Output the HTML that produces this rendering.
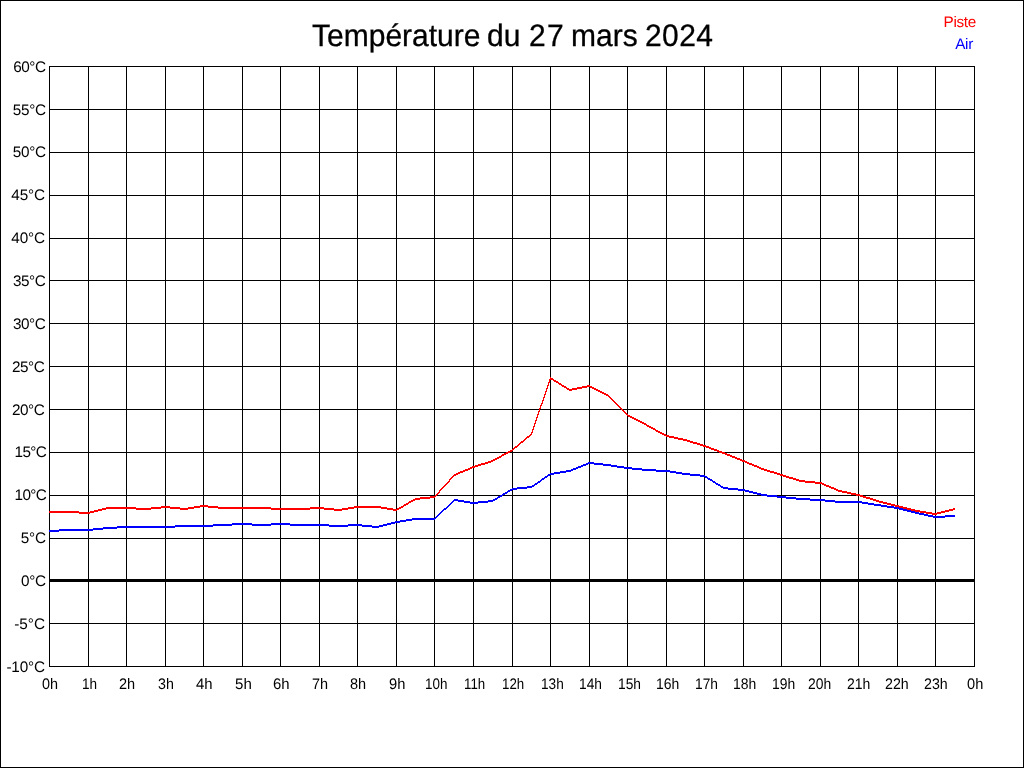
<!DOCTYPE html>
<html lang="fr">
<head>
<meta charset="utf-8">
<title>Température du 27 mars 2024</title>
<style>
html,body{margin:0;padding:0;background:#fff;}
body{width:1024px;height:768px;overflow:hidden;position:relative;font-family:"Liberation Sans",sans-serif;color:#000;}
#frame{position:absolute;left:0;top:0;width:1022px;height:766px;border:1px solid #000;}
.v{position:absolute;width:1px;background:#000;top:66px;height:601px;}
.h{position:absolute;height:1px;background:#000;left:49px;width:926px;}
.z{position:absolute;height:3px;background:#000;left:49px;width:926px;top:579px;}
.yl{position:absolute;left:0;width:46px;text-align:right;font-size:15.3px;letter-spacing:-0.3px;text-rendering:geometricPrecision;line-height:16px;height:16px;white-space:nowrap;}
.xl{position:absolute;transform-origin:0 0;font-size:15.3px;text-rendering:geometricPrecision;line-height:16px;height:16px;top:677px;white-space:nowrap;}
#title{position:absolute;left:0;width:1024px;top:19px;height:34px;font-size:31px;line-height:34px;white-space:nowrap;text-rendering:geometricPrecision;-webkit-text-stroke:0.3px #000;}
#title span{position:absolute;top:0;transform:scaleX(0.968);transform-origin:0 0;}
.lg{position:absolute;font-size:15.3px;letter-spacing:-0.3px;text-rendering:geometricPrecision;line-height:16px;white-space:nowrap;text-align:right;}
svg{position:absolute;left:0;top:0;}
</style>
</head>
<body>
<div id="frame"></div>
<div id="title"><span style="left:312px">Température</span> <span style="left:487px">du</span> <span style="left:529px;letter-spacing:1.4px">27</span> <span style="left:571px">mars</span> <span style="left:645px;letter-spacing:0.4px">2024</span></div>
<div class="lg" style="color:#f00;left:900px;width:76px;top:15px;">Piste</div>
<div class="lg" style="color:#00f;left:900px;width:73px;top:37px;">Air</div>
<div class="v" style="left:49px"></div><div class="v" style="left:88px"></div><div class="v" style="left:126px"></div><div class="v" style="left:165px"></div><div class="v" style="left:203px"></div><div class="v" style="left:242px"></div><div class="v" style="left:280px"></div><div class="v" style="left:319px"></div><div class="v" style="left:357px"></div><div class="v" style="left:396px"></div><div class="v" style="left:434px"></div><div class="v" style="left:473px"></div><div class="v" style="left:512px"></div><div class="v" style="left:550px"></div><div class="v" style="left:589px"></div><div class="v" style="left:627px"></div><div class="v" style="left:666px"></div><div class="v" style="left:704px"></div><div class="v" style="left:743px"></div><div class="v" style="left:781px"></div><div class="v" style="left:820px"></div><div class="v" style="left:858px"></div><div class="v" style="left:897px"></div><div class="v" style="left:935px"></div><div class="v" style="left:974px"></div>
<div class="h" style="top:66px"></div><div class="h" style="top:109px"></div><div class="h" style="top:152px"></div><div class="h" style="top:195px"></div><div class="h" style="top:238px"></div><div class="h" style="top:280px"></div><div class="h" style="top:323px"></div><div class="h" style="top:366px"></div><div class="h" style="top:409px"></div><div class="h" style="top:452px"></div><div class="h" style="top:495px"></div><div class="h" style="top:538px"></div><div class="h" style="top:580px"></div><div class="h" style="top:623px"></div><div class="h" style="top:666px"></div>
<div class="z"></div>
<div class="yl" style="top:60px;width:45.75px;letter-spacing:-0.400px">60°C</div><div class="yl" style="top:103px;width:45.75px;letter-spacing:-0.300px">55°C</div><div class="yl" style="top:145px;width:45.75px;letter-spacing:-0.300px">50°C</div><div class="yl" style="top:188px;width:44.75px;letter-spacing:-0.200px">45°C</div><div class="yl" style="top:231px;width:44.75px;letter-spacing:-0.200px">40°C</div><div class="yl" style="top:274px;width:45.50px;letter-spacing:-0.400px">35°C</div><div class="yl" style="top:317px;width:45.50px;letter-spacing:-0.400px">30°C</div><div class="yl" style="top:360px;width:44.50px;letter-spacing:-0.400px">25°C</div><div class="yl" style="top:403px;width:44.50px;letter-spacing:-0.400px">20°C</div><div class="yl" style="top:445px;width:46.25px;letter-spacing:-0.600px">15°C</div><div class="yl" style="top:488px;width:46.25px;letter-spacing:-0.600px">10°C</div><div class="yl" style="top:531px;width:45.75px;letter-spacing:-0.200px">5°C</div><div class="yl" style="top:574px;width:45.75px;letter-spacing:-0.300px">0°C</div><div class="yl" style="top:617px;width:45.00px;letter-spacing:0.000px">-5°C</div><div class="yl" style="top:660px;width:44.75px;letter-spacing:-0.200px">-10°C</div>
<div class="xl" style="left:42.00px;transform:scaleX(0.9425)">0h</div><div class="xl" style="left:82.01px;transform:scaleX(0.8857)">1h</div><div class="xl" style="left:119.17px;transform:scaleX(0.9508)">2h</div><div class="xl" style="left:158.28px;transform:scaleX(0.9313)">3h</div><div class="xl" style="left:196.00px;transform:scaleX(0.9740)">4h</div><div class="xl" style="left:234.62px;transform:scaleX(0.9851)">5h</div><div class="xl" style="left:272.89px;transform:scaleX(0.9749)">6h</div><div class="xl" style="left:312.11px;transform:scaleX(0.9453)">7h</div><div class="xl" style="left:349.99px;transform:scaleX(0.9495)">8h</div><div class="xl" style="left:389.01px;transform:scaleX(0.9611)">9h</div><div class="xl" style="left:425.12px;transform:scaleX(0.8792)">10h</div><div class="xl" style="left:464.19px;transform:scaleX(0.8696)">11h</div><div class="xl" style="left:502.03px;transform:scaleX(0.8708)">12h</div><div class="xl" style="left:541.01px;transform:scaleX(0.8917)">13h</div><div class="xl" style="left:578.85px;transform:scaleX(0.8979)">14h</div><div class="xl" style="left:617.90px;transform:scaleX(0.9000)">15h</div><div class="xl" style="left:655.69px;transform:scaleX(0.9125)">16h</div><div class="xl" style="left:694.60px;transform:scaleX(0.9000)">17h</div><div class="xl" style="left:732.59px;transform:scaleX(0.9125)">18h</div><div class="xl" style="left:771.69px;transform:scaleX(0.9083)">19h</div><div class="xl" style="left:808.11px;transform:scaleX(0.9078)">20h</div><div class="xl" style="left:847.10px;transform:scaleX(0.9160)">21h</div><div class="xl" style="left:885.09px;transform:scaleX(0.9284)">22h</div><div class="xl" style="left:924.09px;transform:scaleX(0.9284)">23h</div><div class="xl" style="left:967.20px;transform:scaleX(0.9555)">0h</div>
<svg width="1024" height="768" viewBox="0 0 1024 768">
<path d="M49 530h10v2h-10zM59 529h11v2h-11zM69 529h20v2h-20zM88 529h5v2h-5zM93 528h10v2h-10zM103 527h5v2h-5zM107 527h10v2h-10zM117 526h10v2h-10zM126 526h21v2h-21zM146 526h20v2h-20zM165 526h10v2h-10zM175 525h10v2h-10zM184 525h20v2h-20zM203 525h10v2h-10zM213 524h10v2h-10zM222 524h10v2h-10zM232 523h11v2h-11zM242 523h10v2h-10zM252 524h10v2h-10zM261 524h10v2h-10zM271 523h10v2h-10zM280 523h10v2h-10zM290 524h11v2h-11zM300 524h20v2h-20zM319 524h10v2h-10zM329 525h10v2h-10zM338 525h10v2h-10zM348 524h10v2h-10zM357 524h5v2h-5zM362 525h10v2h-10zM372 526h6v2h-6zM377 526h2v2h-2zM379 525h4v2h-4zM383 524h4v2h-4zM387 523h4v2h-4zM391 522h4v2h-4zM395 521h2v2h-2zM396 521h4v2h-4zM400 520h6v2h-6zM406 519h6v2h-6zM412 518h4v2h-4zM415 518h20v2h-20zM434 518h1v2h-1zM435 517h1v2h-1zM436 516h1v2h-1zM437 515h1v2h-1zM438 514h1v2h-1zM439 513h1v2h-1zM440 512h1v2h-1zM441 511h1v2h-1zM442 510h1v2h-1zM443 509h1v2h-1zM444 508h2v2h-2zM446 507h1v2h-1zM447 506h1v2h-1zM448 505h1v2h-1zM449 504h1v2h-1zM450 503h1v2h-1zM451 502h1v2h-1zM452 501h1v2h-1zM453 500h1v2h-1zM454 499h1v2h-1zM454 499h4v2h-4zM458 500h6v2h-6zM464 501h6v2h-6zM470 502h4v2h-4zM473 502h5v2h-5zM478 501h10v2h-10zM488 500h5v2h-5zM492 500h1v2h-1zM493 499h2v2h-2zM495 498h2v2h-2zM497 497h1v2h-1zM498 496h2v2h-2zM500 495h2v2h-2zM502 494h1v2h-1zM503 493h2v2h-2zM505 492h2v2h-2zM507 491h1v2h-1zM508 490h2v2h-2zM510 489h2v2h-2zM512 488h1v2h-1zM512 488h5v2h-5zM517 487h10v2h-10zM527 486h5v2h-5zM531 486h1v2h-1zM532 485h2v2h-2zM534 484h1v2h-1zM535 483h2v2h-2zM537 482h1v2h-1zM538 481h2v2h-2zM540 480h1v2h-1zM541 479h1v2h-1zM542 478h2v2h-2zM544 477h1v2h-1zM545 476h2v2h-2zM547 475h1v2h-1zM548 474h2v2h-2zM550 473h1v2h-1zM550 473h4v2h-4zM554 472h6v2h-6zM560 471h6v2h-6zM566 470h4v2h-4zM569 470h2v2h-2zM571 469h2v2h-2zM573 468h3v2h-3zM576 467h2v2h-2zM578 466h3v2h-3zM581 465h2v2h-2zM583 464h3v2h-3zM586 463h2v2h-2zM588 462h2v2h-2zM589 462h5v2h-5zM594 463h9v2h-9zM603 464h5v2h-5zM607 464h4v2h-4zM611 465h6v2h-6zM617 466h7v2h-7zM624 467h4v2h-4zM627 467h5v2h-5zM632 468h10v2h-10zM642 469h5v2h-5zM646 469h10v2h-10zM656 470h11v2h-11zM666 470h4v2h-4zM670 471h6v2h-6zM676 472h6v2h-6zM682 473h4v2h-4zM685 473h5v2h-5zM690 474h10v2h-10zM700 475h5v2h-5zM704 475h1v2h-1zM705 476h2v2h-2zM707 477h1v2h-1zM708 478h2v2h-2zM710 479h2v2h-2zM712 480h1v2h-1zM713 481h2v2h-2zM715 482h1v2h-1zM716 483h2v2h-2zM718 484h2v2h-2zM720 485h1v2h-1zM721 486h2v2h-2zM723 487h1v2h-1zM723 487h5v2h-5zM728 488h10v2h-10zM738 489h6v2h-6zM743 489h2v2h-2zM745 490h4v2h-4zM749 491h4v2h-4zM753 492h4v2h-4zM757 493h4v2h-4zM761 494h2v2h-2zM762 494h5v2h-5zM767 495h10v2h-10zM777 496h5v2h-5zM781 496h5v2h-5zM786 497h10v2h-10zM796 498h5v2h-5zM800 498h10v2h-10zM810 499h11v2h-11zM820 499h5v2h-5zM825 500h10v2h-10zM835 501h5v2h-5zM839 501h20v2h-20zM858 501h4v2h-4zM862 502h6v2h-6zM868 503h6v2h-6zM874 504h4v2h-4zM877 504h4v2h-4zM881 505h6v2h-6zM887 506h7v2h-7zM894 507h4v2h-4zM897 507h2v2h-2zM899 508h4v2h-4zM903 509h4v2h-4zM907 510h4v2h-4zM911 511h4v2h-4zM915 512h2v2h-2zM916 512h3v2h-3zM919 513h5v2h-5zM924 514h4v2h-4zM928 515h5v2h-5zM933 516h3v2h-3zM935 516h10v2h-10zM945 515h10v2h-10z" fill="#0000ff" shape-rendering="crispEdges"/>
<path d="M49 511h21v2h-21zM69 511h10v2h-10zM79 512h10v2h-10zM88 512h2v2h-2zM90 511h4v2h-4zM94 510h4v2h-4zM98 509h4v2h-4zM102 508h4v2h-4zM106 507h2v2h-2zM107 507h20v2h-20zM126 507h10v2h-10zM136 508h11v2h-11zM146 508h5v2h-5zM151 507h10v2h-10zM161 506h5v2h-5zM165 506h5v2h-5zM170 507h10v2h-10zM180 508h5v2h-5zM184 508h4v2h-4zM188 507h6v2h-6zM194 506h6v2h-6zM200 505h4v2h-4zM203 505h5v2h-5zM208 506h10v2h-10zM218 507h5v2h-5zM222 507h21v2h-21zM242 507h20v2h-20zM261 507h10v2h-10zM271 508h10v2h-10zM280 508h21v2h-21zM300 508h10v2h-10zM310 507h10v2h-10zM319 507h5v2h-5zM324 508h10v2h-10zM334 509h5v2h-5zM338 509h4v2h-4zM342 508h6v2h-6zM348 507h6v2h-6zM354 506h4v2h-4zM357 506h21v2h-21zM377 506h4v2h-4zM381 507h6v2h-6zM387 508h6v2h-6zM393 509h4v2h-4zM396 509h1v2h-1zM397 508h2v2h-2zM399 507h2v2h-2zM401 506h2v2h-2zM403 505h1v2h-1zM404 504h2v2h-2zM406 503h2v2h-2zM408 502h1v2h-1zM409 501h2v2h-2zM411 500h2v2h-2zM413 499h2v2h-2zM415 498h1v2h-1zM415 498h5v2h-5zM420 497h10v2h-10zM430 496h5v2h-5zM454 474h1v2h-1zM453 475h1v2h-1zM452 476h1v2h-1zM451 477h1v2h-1zM450 478h1v2h-1zM449 479h1v3h-1zM448 481h1v2h-1zM447 482h1v2h-1zM446 483h1v2h-1zM445 484h1v2h-1zM444 485h1v2h-1zM443 486h1v2h-1zM442 487h1v2h-1zM441 488h1v2h-1zM440 489h1v2h-1zM439 490h1v3h-1zM438 492h1v2h-1zM437 493h1v2h-1zM436 494h1v2h-1zM435 495h1v2h-1zM434 496h1v2h-1zM454 474h2v2h-2zM456 473h2v2h-2zM458 472h2v2h-2zM460 471h3v2h-3zM463 470h2v2h-2zM465 469h3v2h-3zM468 468h2v2h-2zM470 467h2v2h-2zM472 466h2v2h-2zM473 466h2v2h-2zM475 465h3v2h-3zM478 464h3v2h-3zM481 463h4v2h-4zM485 462h3v2h-3zM488 461h3v2h-3zM491 460h2v2h-2zM492 460h1v2h-1zM493 459h2v2h-2zM495 458h2v2h-2zM497 457h2v2h-2zM499 456h2v2h-2zM501 455h1v2h-1zM502 454h2v2h-2zM504 453h2v2h-2zM506 452h2v2h-2zM508 451h2v2h-2zM510 450h2v2h-2zM512 449h1v2h-1zM512 449h1v2h-1zM513 448h1v2h-1zM514 447h1v2h-1zM515 446h2v2h-2zM517 445h1v2h-1zM518 444h1v2h-1zM519 443h1v2h-1zM520 442h1v2h-1zM521 441h2v2h-2zM523 440h1v2h-1zM524 439h1v2h-1zM525 438h1v2h-1zM526 437h1v2h-1zM527 436h2v2h-2zM529 435h1v2h-1zM530 434h1v2h-1zM531 433h1v2h-1zM550 377h1v3h-1zM549 379h1v4h-1zM548 382h1v4h-1zM547 385h1v4h-1zM546 388h1v4h-1zM545 391h1v4h-1zM544 394h1v4h-1zM543 397h1v4h-1zM542 400h1v4h-1zM541 403h1v3h-1zM540 405h1v4h-1zM539 408h1v4h-1zM538 411h1v4h-1zM537 414h1v4h-1zM536 417h1v4h-1zM535 420h1v4h-1zM534 423h1v4h-1zM533 426h1v4h-1zM532 429h1v4h-1zM531 432h1v3h-1zM550 377h1v2h-1zM551 378h2v2h-2zM553 379h1v2h-1zM554 380h2v2h-2zM556 381h2v2h-2zM558 382h1v2h-1zM559 383h2v2h-2zM561 384h1v2h-1zM562 385h2v2h-2zM564 386h2v2h-2zM566 387h1v2h-1zM567 388h2v2h-2zM569 389h1v2h-1zM569 389h3v2h-3zM572 388h5v2h-5zM577 387h5v2h-5zM582 386h5v2h-5zM587 385h3v2h-3zM589 385h1v2h-1zM590 386h2v2h-2zM592 387h2v2h-2zM594 388h2v2h-2zM596 389h2v2h-2zM598 390h2v2h-2zM600 391h2v2h-2zM602 392h2v2h-2zM604 393h2v2h-2zM606 394h2v2h-2zM607 394h1v2h-1zM608 395h1v2h-1zM609 396h1v2h-1zM610 397h1v2h-1zM611 398h1v2h-1zM612 399h1v2h-1zM613 400h1v2h-1zM614 401h1v2h-1zM615 402h1v2h-1zM616 403h1v2h-1zM617 404h1v2h-1zM618 405h1v2h-1zM619 406h1v2h-1zM620 407h1v2h-1zM621 408h1v2h-1zM622 409h1v2h-1zM623 410h1v2h-1zM624 411h1v2h-1zM625 412h1v2h-1zM626 413h1v2h-1zM627 414h1v2h-1zM627 414h1v2h-1zM628 415h2v2h-2zM630 416h2v2h-2zM632 417h2v2h-2zM634 418h2v2h-2zM636 419h2v2h-2zM638 420h2v2h-2zM640 421h2v2h-2zM642 422h2v2h-2zM644 423h2v2h-2zM646 424h1v2h-1zM646 424h1v2h-1zM647 425h2v2h-2zM649 426h2v2h-2zM651 427h2v2h-2zM653 428h2v2h-2zM655 429h1v2h-1zM656 430h2v2h-2zM658 431h2v2h-2zM660 432h2v2h-2zM662 433h2v2h-2zM664 434h2v2h-2zM666 435h1v2h-1zM666 435h3v2h-3zM669 436h5v2h-5zM674 437h4v2h-4zM678 438h5v2h-5zM683 439h3v2h-3zM685 439h2v2h-2zM687 440h3v2h-3zM690 441h3v2h-3zM693 442h4v2h-4zM697 443h3v2h-3zM700 444h3v2h-3zM703 445h2v2h-2zM704 445h2v2h-2zM706 446h3v2h-3zM709 447h2v2h-2zM711 448h3v2h-3zM714 449h3v2h-3zM717 450h2v2h-2zM719 451h3v2h-3zM722 452h2v2h-2zM723 452h2v2h-2zM725 453h2v2h-2zM727 454h3v2h-3zM730 455h2v2h-2zM732 456h3v2h-3zM735 457h2v2h-2zM737 458h3v2h-3zM740 459h2v2h-2zM742 460h2v2h-2zM743 460h2v2h-2zM745 461h2v2h-2zM747 462h2v2h-2zM749 463h3v2h-3zM752 464h2v2h-2zM754 465h3v2h-3zM757 466h2v2h-2zM759 467h2v2h-2zM761 468h2v2h-2zM762 468h2v2h-2zM764 469h3v2h-3zM767 470h3v2h-3zM770 471h4v2h-4zM774 472h3v2h-3zM777 473h3v2h-3zM780 474h2v2h-2zM781 474h2v2h-2zM783 475h3v2h-3zM786 476h3v2h-3zM789 477h4v2h-4zM793 478h3v2h-3zM796 479h3v2h-3zM799 480h2v2h-2zM800 480h5v2h-5zM805 481h10v2h-10zM815 482h6v2h-6zM820 482h2v2h-2zM822 483h2v2h-2zM824 484h2v2h-2zM826 485h3v2h-3zM829 486h2v2h-2zM831 487h3v2h-3zM834 488h2v2h-2zM836 489h2v2h-2zM838 490h2v2h-2zM839 490h3v2h-3zM842 491h5v2h-5zM847 492h4v2h-4zM851 493h5v2h-5zM856 494h3v2h-3zM858 494h2v2h-2zM860 495h3v2h-3zM863 496h3v2h-3zM866 497h4v2h-4zM870 498h3v2h-3zM873 499h3v2h-3zM876 500h2v2h-2zM877 500h2v2h-2zM879 501h4v2h-4zM883 502h4v2h-4zM887 503h4v2h-4zM891 504h4v2h-4zM895 505h3v2h-3zM897 505h2v2h-2zM899 506h4v2h-4zM903 507h4v2h-4zM907 508h4v2h-4zM911 509h4v2h-4zM915 510h2v2h-2zM916 510h4v2h-4zM920 511h6v2h-6zM926 512h6v2h-6zM932 513h4v2h-4zM935 513h2v2h-2zM937 512h4v2h-4zM941 511h4v2h-4zM945 510h4v2h-4zM949 509h4v2h-4zM953 508h2v2h-2z" fill="#ff0000" shape-rendering="crispEdges"/>
</svg>
</body>
</html>
